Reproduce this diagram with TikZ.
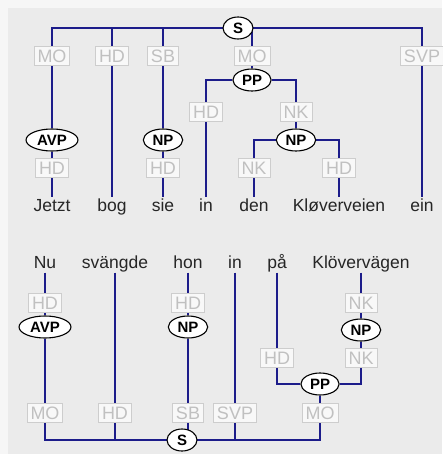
\documentclass[tikz,border=0pt]{standalone}
\usepackage{fontspec}
\setmainfont{Liberation Sans}
\usetikzlibrary{shapes.geometric,backgrounds}

\definecolor{treeblue}{RGB}{28,28,138}
\definecolor{labline}{RGB}{205,205,205}
\definecolor{labtext}{RGB}{192,192,192}
\definecolor{labfill}{RGB}{248,248,248}
\definecolor{panel}{RGB}{235,235,235}
\definecolor{frame}{RGB}{246,246,246}

\tikzset{
  word/.style={font=\fontsize{17.5}{20}\selectfont, text=black!85, inner xsep=1pt,
    inner ysep=1pt, text height=12.5pt, text depth=3.5pt},
  lab/.style={draw=labline, fill=labfill, text=labtext, font=\fontsize{18}{20}\selectfont,
    inner xsep=3.5pt, inner ysep=3pt, text height=13pt, text depth=0pt, line width=1pt},
  cat/.style={ellipse, draw=black, fill=white, line width=1.1pt,
    font=\fontsize{15}{17}\bfseries, inner xsep=3.5pt, inner ysep=2.4pt,
    text height=10.5pt, text depth=0pt, minimum height=22pt, minimum width=30pt},
  edge/.style={draw=treeblue, line width=2.7pt}
}

\begin{document}
\begin{tikzpicture}[x=1pt,y=-1pt]
  \useasboundingbox (0,0) rectangle (442,454);

  % German sentence
  \node[cat] (s1) at (238,28) {S};
  \node[lab] (mo1) at (52,56) {MO};
  \node[lab] (hd1) at (112,56) {HD};
  \node[lab] (sb1) at (163,56) {SB};
  \node[lab] (mo2) at (252,56) {MO};
  \node[lab] (svp1) at (422,56) {SVP};
  \node[cat] (pp1) at (252,80) {PP};
  \node[lab] (hd2) at (206,112) {HD};
  \node[lab] (nk1) at (296,112) {NK};
  \node[cat] (avp1) at (52,140) {AVP};
  \node[cat] (np1) at (163,140) {NP};
  \node[cat] (np2) at (296,140) {NP};
  \node[lab] (hd3) at (52,168) {HD};
  \node[lab] (hd4) at (163,168) {HD};
  \node[lab] (nk2) at (254,168) {NK};
  \node[lab] (hd5) at (339,168) {HD};
  \node[word,anchor=base] (jetzt) at (52,211) {Jetzt};
  \node[word,anchor=base] (bog) at (112,211) {bog};
  \node[word,anchor=base] (sie) at (163,211) {sie};
  \node[word,anchor=base] (in1) at (206,211) {in};
  \node[word,anchor=base] (den) at (254,211) {den};
  \node[word,anchor=base] (klov1) at (339,211) {Kløverveien};
  \node[word,anchor=base] (ein) at (422,211) {ein};

  % Swedish sentence
  \node[word,anchor=base] (nu) at (45,268) {Nu};
  \node[word,anchor=base] (svangde) at (115,268) {svängde};
  \node[word,anchor=base] (hon) at (188,268) {hon};
  \node[word,anchor=base] (in2) at (235,268) {in};
  \node[word,anchor=base] (pa) at (277,268) {på};
  \node[word,anchor=base] (klov2) at (361,268) {Klövervägen};
  \node[lab] (hd6) at (45,303) {HD};
  \node[lab] (hd7) at (188,303) {HD};
  \node[lab] (nk3) at (361,303) {NK};
  \node[cat] (avp2) at (45,327) {AVP};
  \node[cat] (np3) at (188,327) {NP};
  \node[cat] (np4) at (361,330) {NP};
  \node[lab] (hd8) at (277,358) {HD};
  \node[lab] (nk4) at (361,358) {NK};
  \node[cat] (pp2) at (320,384) {PP};
  \node[lab] (mo3) at (45,413) {MO};
  \node[lab] (hd9) at (115,413) {HD};
  \node[lab] (sb2) at (188,413) {SB};
  \node[lab] (svp2) at (235,413) {SVP};
  \node[lab] (mo4) at (320,413) {MO};
  \node[cat] (s2) at (182,440) {S};

  \begin{scope}[on background layer]
    \fill[frame] (0,0) rectangle (442,454);
    \fill[panel] (8,8) rectangle (442,454);
    % German tree
    \draw[edge] (s1.center) -| (mo1) (s1.center) -| (hd1) (s1.center) -| (sb1)
      (s1.center) -| (mo2) (s1.center) -| (svp1);
    \draw[edge] (mo1) -- (avp1) -- (hd3) -- (jetzt);
    \draw[edge] (hd1) -- (bog);
    \draw[edge] (sb1) -- (np1) -- (hd4) -- (sie);
    \draw[edge] (mo2) -- (pp1);
    \draw[edge] (pp1) -| (hd2) (pp1) -| (nk1);
    \draw[edge] (hd2) -- (in1);
    \draw[edge] (nk1) -- (np2);
    \draw[edge] (np2) -| (nk2) (np2) -| (hd5);
    \draw[edge] (nk2) -- (den);
    \draw[edge] (hd5) -- (klov1);
    \draw[edge] (svp1) -- (ein);
    % Swedish tree
    \draw[edge] (nu) -- (hd6) -- (avp2) -- (mo3);
    \draw[edge] (svangde) -- (hd9);
    \draw[edge] (hon) -- (hd7) -- (np3) -- (sb2);
    \draw[edge] (in2) -- (svp2);
    \draw[edge] (pa) -- (hd8);
    \draw[edge] (klov2) -- (nk3) -- (np4) -- (nk4);
    \draw[edge] (pp2) -| (hd8) (pp2) -| (nk4);
    \draw[edge] (pp2) -- (mo4);
    \draw[edge] (s2.center) -| (mo3) (s2.center) -| (hd9) (s2.center) -| (sb2)
      (s2.center) -| (svp2) (s2.center) -| (mo4);
  \end{scope}
\end{tikzpicture}
\end{document}
